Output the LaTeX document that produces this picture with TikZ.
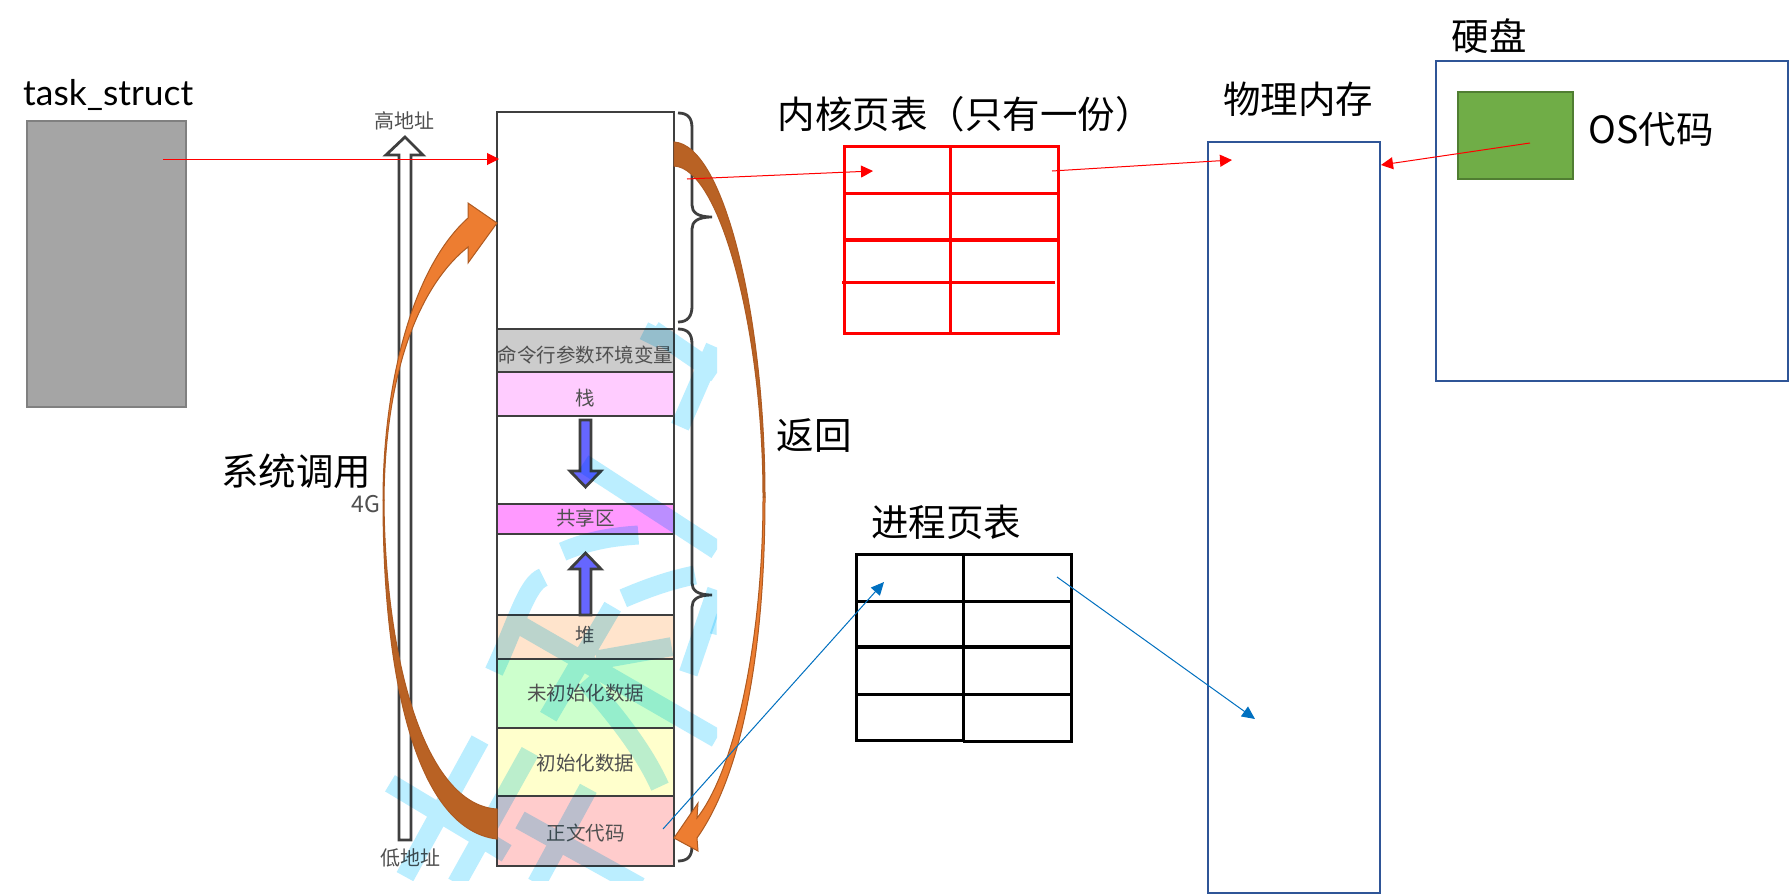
\documentclass[tikz,border=0pt]{standalone}
\usepackage{fontspec}
\setmainfont{Noto Sans CJK SC}
\newfontfamily\latfont{Lato}
\usetikzlibrary{arrows.meta}
\definecolor{stkline}{HTML}{3F3F3F}
\definecolor{stktext}{HTML}{505050}
\definecolor{wm}{HTML}{BBEEFF}
\definecolor{orgL}{HTML}{ED7D31}
\definecolor{orgD}{HTML}{B96224}
\definecolor{orgB}{HTML}{AE5A21}
\definecolor{memblue}{HTML}{2F5597}
\definecolor{linkblue}{HTML}{0070C0}
\tikzset{
  plain/.style={inner sep=0pt,outer sep=0pt,anchor=north west,rectangle},
  row/.style={plain,draw=stkline,line width=2.8pt,minimum width=177pt},
  rowlabel/.style={inner sep=0pt,text=stktext,font=\fontsize{19.5}{20}\selectfont},
  big/.style={inner sep=0pt,font=\fontsize{37.5}{40}\selectfont,text=black},
  small/.style={inner sep=0pt,font=\fontsize{20}{22}\selectfont,text=stktext},
  redlink/.style={draw=red,line width=1pt,-{Triangle[length=12pt,width=12pt,fill=red]}},
  bluelink/.style={draw=linkblue,line width=1pt,-{Triangle[length=13pt,width=12pt,fill=linkblue]}},
  memrect/.style={plain,draw=memblue,line width=2pt},
  redgrid/.style={draw=red,line width=3pt},
  blackgrid/.style={draw=black,line width=3pt},
  curlybr/.style={draw=stkline,line width=2.8pt},
  stkarrow/.style={draw=stkline,line width=2.8pt,line join=miter}
}
\begin{document}
\begin{tikzpicture}[x=1pt,y=-1pt]
\useasboundingbox (0,0) rectangle (1790,894);
\fill[white] (0,0) rectangle (1790,894);

% task_struct
\node[plain,draw=black!50,line width=2pt,fill=black!35.3,minimum width=159pt,minimum height=286pt] (task) at (27,121) {};
\node[inner sep=0pt,anchor=base west,font=\latfont\fontsize{35.4}{38}\selectfont] (tasklabel) at (23,105) {task\_struct};

% address arrow
\draw[stkarrow,fill=white] (399,840) -- (399,155) -- (386,155) -- (405,137) -- (423,155) -- (411,155) -- (411,840) -- cycle;
\node[small] (hi) at (404,121) {高地址};
\node[small] (lo) at (410,858) {低地址};
\node[small,font=\fontsize{23}{24}\selectfont] (fourg) at (366,504) {4G};

% stack
\node[plain,draw=stkline,line width=2.8pt,minimum width=177pt,minimum height=754pt] (stack) at (497,112) {};
\node[row,fill=black!20,minimum height=43pt] (args) at (497,329) {};
\node[row,fill={rgb,255:red,255;green,204;blue,255},minimum height=44pt] (stk) at (497,372) {};
\node[row,fill={rgb,255:red,255;green,153;blue,255},minimum height=30pt] (shared) at (497,504) {};
\node[row,fill={rgb,255:red,255;green,228;blue,204},minimum height=44pt] (heap) at (497,615) {};
\node[row,fill={rgb,255:red,204;green,255;blue,204},minimum height=69pt] (bss) at (497,659) {};
\node[row,fill={rgb,255:red,255;green,255;blue,204},minimum height=68pt] (data) at (497,728) {};
\node[row,fill={rgb,255:red,255;green,204;blue,204},minimum height=70pt] (text) at (497,796) {};
\node[rowlabel] (argsL) at ([yshift=-4.5pt]args.center) {命令行参数环境变量};
\node[rowlabel] (stkL) at ([yshift=-4.5pt]stk.center) {栈};
\node[rowlabel] (sharedL) at ([yshift=1pt]shared.center) {共享区};
\node[rowlabel] (heapL) at ([yshift=2pt]heap.center) {堆};
\node[rowlabel] (bssL) at (bss.center) {未初始化数据};
\node[rowlabel] (dataL) at ([yshift=-1pt]data.center) {初始化数据};
\node[rowlabel] (textL) at ([yshift=-2pt]text.center) {正文代码};

% inner arrows
\draw[stkarrow,fill={rgb,255:red,102;green,102;blue,255}] (580,420) -- (591,420) -- (591,471) -- (601,471) -- (585.5,487) -- (570,471) -- (580,471) -- cycle;
\draw[stkarrow,fill={rgb,255:red,102;green,102;blue,255}] (580,615) -- (580,569) -- (570,569) -- (585.5,553) -- (601,569) -- (591,569) -- (591,615) -- cycle;

% braces
\draw[curlybr] (678,113) .. controls (688,113) and (692,118) .. (692,128) -- (692,205) .. controls (692,212) and (697,217) .. (712,217) .. controls (697,217) and (692,222) .. (692,229) -- (692,306) .. controls (692,316) and (688,322) .. (678,322);
\draw[curlybr] (678,329) .. controls (688,329) and (692,334) .. (692,344) -- (692,583) .. controls (692,590) and (697,595) .. (712,595) .. controls (697,595) and (692,600) .. (692,607) -- (692,846) .. controls (692,856) and (688,861) .. (678,861);

% watermark
\begin{scope}
\clip (380,200) rectangle (717,880);
\begin{scope}[shift={(340,490)},x=0.3333pt,y=-0.3333pt,blend mode=multiply]
\draw[wm,line width=19pt,line cap=butt,line join=round]
  (940,-480) -- (1130,-350)
  (950,-490) -- (925,-440)
  (1125,-430) -- (1020,-190)
  (730,-80) -- (1130,180)
  (668,185) .. controls (750,150) and (820,140) .. (895,135)
  (850,325) .. controls (920,295) and (990,270) .. (1065,255)
  (1130,300) -- (1045,550)
  (610,262) .. controls (560,280) and (530,400) .. (462,545)
  (540,405) -- (1130,745)
  (818,350) -- (625,680)
  (995,470) -- (770,510)
  (735,570) .. controls (830,680) and (910,780) .. (960,890)
  (570,785) -- (350,1180)
  (420,750) -- (195,1160)
  (150,880) -- (500,1090)
  (745,895) -- (590,1180)
  (540,990) -- (900,1190);
\fill[wm] (1110,430) -- (1130,370) -- (1130,435) -- cycle;
\end{scope}
\end{scope}

% orange arrows
\filldraw[fill=orgD,draw=orgB,line width=1pt] (497,839) .. controls (420,830) and (383,690) .. (383,500) -- (384,500) .. controls (385,660) and (425,805) .. (497,809) -- cycle;
\filldraw[fill=orgL,draw=orgB,line width=1pt] (383,500) .. controls (383,390) and (410,270) .. (468,218) -- (468,203) -- (497,223) -- (468,263) -- (468,247) .. controls (420,285) and (385,370) .. (384,500) -- cycle;
\filldraw[fill=orgD,draw=orgB,line width=1pt] (674,142) .. controls (725,145) and (765,320) .. (765,497) -- (763,497) .. controls (763,330) and (720,168) .. (674,166) -- cycle;
\filldraw[fill=orgL,draw=orgB,line width=1pt] (765,497) .. controls (765,640) and (745,770) .. (697,838) -- (698,851) -- (674,838) -- (698,803) -- (697,818) .. controls (735,770) and (763,640) .. (763,497) -- cycle;

% red table
\draw[redgrid] (844,146) rectangle (1058,333);
\draw[redgrid] (950.5,146) -- (950.5,333);
\draw[redgrid] (844,193) -- (1058,193);
\draw[draw=red,line width=4pt] (844,240) -- (1058,240);
\draw[redgrid] (842,282) -- (1055,282);
\node[plain,minimum width=214pt,minimum height=187pt] (ktable) at (844,146) {};

% black table
\draw[blackgrid] (856,554) rectangle (1071,694);
\draw[blackgrid] (856,694) -- (856,740) -- (963,740);
\draw[blackgrid] (963,741) -- (1071,741) -- (1071,694);
\draw[blackgrid] (963,554) -- (963,741);
\draw[blackgrid] (856,601) -- (1071,601);
\draw[draw=black,line width=3.6pt] (856,647) -- (1071,647);
\node[plain,minimum width=215pt,minimum height=187pt] (ptable) at (856,554) {};

% memory and disk
\node[memrect,minimum width=172pt,minimum height=751pt] (mem) at (1208,142) {};
\node[memrect,minimum width=352pt,minimum height=320pt] (disk) at (1436,61) {};
\node[plain,draw={rgb,255:red,80;green,126;blue,50},line width=2pt,fill={rgb,255:red,112;green,173;blue,71},minimum width=115pt,minimum height=87pt] (os) at (1458,92) {};

% labels
\node[big] (l1) at (1489,36) {硬盘};
\node[big] (l2) at (1298,99) {物理内存};
\node[big] (l3) at (965,114) {内核页表（只有一份）};
\node[big] (l4) at (1651,129) {OS代码};
\node[big] (l5) at (814,436) {返回};
\node[big] (l6) at (296,471) {系统调用};
\node[big] (l7) at (946,522) {进程页表};

% link ends
\coordinate (r1s) at (163,159);
\coordinate (r1e) at (499,159);
\coordinate (r2s) at (687,179);
\coordinate (r2e) at (873,171);
\coordinate (r3s) at (1052,171);
\coordinate (r3e) at (1232,160);
\coordinate (r4s) at (1530,143);
\coordinate (r4e) at (1381,165);
\coordinate (b1s) at (663,829);
\coordinate (b1e) at (884,582);
\coordinate (b2s) at (1057,577);
\coordinate (b2e) at (1255,719);

\draw[redlink] (r1s) -- (r1e);
\draw[redlink] (r2s) -- (r2e);
\draw[redlink] (r3s) -- (r3e);
\draw[redlink] (r4s) -- (r4e);
\draw[bluelink] (b1s) -- (b1e);
\draw[bluelink] (b2s) -- (b2e);
\end{tikzpicture}
\end{document}
